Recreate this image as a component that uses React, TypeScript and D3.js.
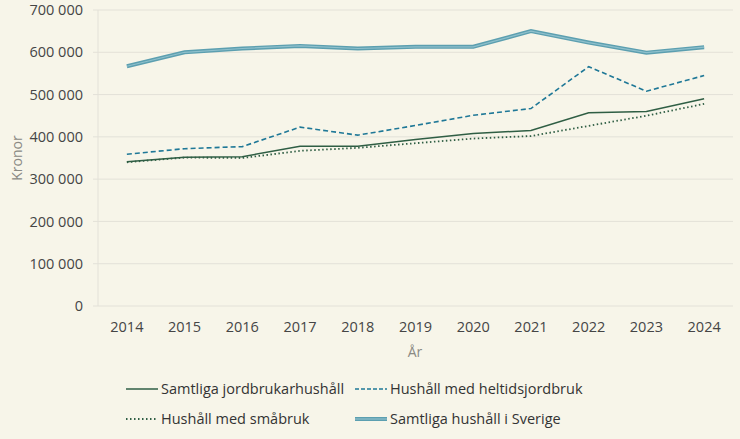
import React, { useEffect, useRef } from 'react';
import * as d3 from 'd3';

const years = ['2014', '2015', '2016', '2017', '2018', '2019', '2020', '2021', '2022', '2023', '2024'];
const samtligaJordbrukare = [341000, 352000, 353000, 378000, 378000, 394000, 408000, 415000, 457000, 460000, 490000];
const heltidsjordbruk = [359000, 372000, 377000, 423000, 404000, 427000, 451000, 467000, 566000, 508000, 545000];
const smabruk = [340000, 351000, 350000, 367000, 374000, 385000, 396000, 402000, 426000, 450000, 478000];
const samtligaSverige = [567000, 600000, 609000, 615000, 609000, 613000, 613000, 650000, 623000, 599000, 612000];
const yTicks = [0, 100000, 200000, 300000, 400000, 500000, 600000, 700000];

const FONT = '"Open Sans", "Noto Sans", sans-serif';

const App: React.FC = () => {
  const svgRef = useRef<SVGSVGElement>(null);

  useEffect(() => {
    if (!svgRef.current) return;
    const svg = d3.select(svgRef.current);
    svg.selectAll('*').remove();

    const width = 740;
    const height = 439;
    const left = 98;
    const right = 733;
    const top = 10;
    const bottom = 306;

    svg.append('rect').attr('width', width).attr('height', height).attr('fill', '#f7f5e9');

    const x = d3.scalePoint<string>().domain(years).range([left, right]).padding(0.5);
    const y = d3.scaleLinear().domain([0, 700000]).range([bottom, top]);

    const fmt = (v: number) => d3.format(',')(v).replace(/,/g, ' ');

    // Grid lines and y labels
    const grid = svg.append('g');
    yTicks.forEach(t => {
      grid.append('line')
        .attr('x1', left - 5).attr('x2', right)
        .attr('y1', y(t)).attr('y2', y(t))
        .attr('stroke', '#e3e1d8').attr('stroke-width', 1);
      grid.append('text')
        .attr('x', 83).attr('y', y(t))
        .attr('dy', '0.35em')
        .attr('text-anchor', 'end')
        .attr('font-family', FONT).attr('font-size', 14.5)
        .attr('fill', '#454545')
        .text(fmt(t));
    });
    grid.append('line')
      .attr('x1', left).attr('x2', left)
      .attr('y1', top).attr('y2', bottom)
      .attr('stroke', '#e3e1d8');

    // x labels
    years.forEach(yr => {
      svg.append('text')
        .attr('x', x(yr)!).attr('y', 327)
        .attr('dy', '0.35em')
        .attr('text-anchor', 'middle')
        .attr('font-family', FONT).attr('font-size', 14.5)
        .attr('fill', '#454545')
        .text(yr);
    });

    svg.append('text')
      .attr('x', 415).attr('y', 352)
      .attr('dy', '0.35em')
      .attr('text-anchor', 'middle')
      .attr('font-family', FONT).attr('font-size', 14)
      .attr('fill', '#8a8a84')
      .text('År');

    svg.append('text')
      .attr('transform', 'translate(17,158) rotate(-90)')
      .attr('dy', '0.35em')
      .attr('text-anchor', 'middle')
      .attr('font-family', FONT).attr('font-size', 14)
      .attr('fill', '#8a8a84')
      .text('Kronor');

    const line = d3.line<number>()
      .x((_, i) => x(years[i])!)
      .y(d => y(d));

    // Samtliga hushåll i Sverige: double line
    svg.append('path').datum(samtligaSverige)
      .attr('fill', 'none').attr('stroke', '#5c9fb0').attr('stroke-width', 4)
      .attr('d', line);
    svg.append('path').datum(samtligaSverige)
      .attr('fill', 'none').attr('stroke', '#8fc0cc').attr('stroke-width', 1.2)
      .attr('d', line);

    svg.append('path').datum(heltidsjordbruk)
      .attr('fill', 'none').attr('stroke', '#1f7897').attr('stroke-width', 1.6)
      .attr('stroke-dasharray', '5,3')
      .attr('d', line);

    svg.append('path').datum(smabruk)
      .attr('fill', 'none').attr('stroke', '#2f5e44').attr('stroke-width', 1.8)
      .attr('stroke-dasharray', '1.5,2.5')
      .attr('d', line);

    svg.append('path').datum(samtligaJordbrukare)
      .attr('fill', 'none').attr('stroke', '#2f5e44').attr('stroke-width', 1.5)
      .attr('d', line);

    // Legend
    const legend = [
      { label: 'Samtliga jordbrukarhushåll', x: 126, y: 389, kind: 'solid' },
      { label: 'Hushåll med heltidsjordbruk', x: 355, y: 389, kind: 'dash' },
      { label: 'Hushåll med småbruk', x: 126, y: 419, kind: 'dot' },
      { label: 'Samtliga hushåll i Sverige', x: 355, y: 419, kind: 'double' },
    ];
    legend.forEach(l => {
      const g = svg.append('g');
      const seg = (stroke: string, w: number, dash?: string) =>
        g.append('line')
          .attr('x1', l.x).attr('x2', l.x + 32)
          .attr('y1', l.y).attr('y2', l.y)
          .attr('stroke', stroke).attr('stroke-width', w)
          .attr('stroke-dasharray', dash ?? null);
      if (l.kind === 'solid') seg('#2f5e44', 1.5);
      if (l.kind === 'dash') seg('#1f7897', 1.6, '4,2');
      if (l.kind === 'dot') seg('#2f5e44', 1.8, '1.5,2.5');
      if (l.kind === 'double') {
        seg('#5c9fb0', 4);
        seg('#8fc0cc', 1.2);
      }
      g.append('text')
        .attr('x', l.x + 35).attr('y', l.y)
        .attr('dy', '0.35em')
        .attr('font-family', FONT).attr('font-size', 14.5)
        .attr('fill', '#333')
        .text(l.label);
    });
  }, []);

  return (
    <svg
      ref={svgRef}
      width={740}
      height={439}
      style={{ position: 'absolute', left: 0, top: 0, display: 'block' }}
    />
  );
};

export default App;
